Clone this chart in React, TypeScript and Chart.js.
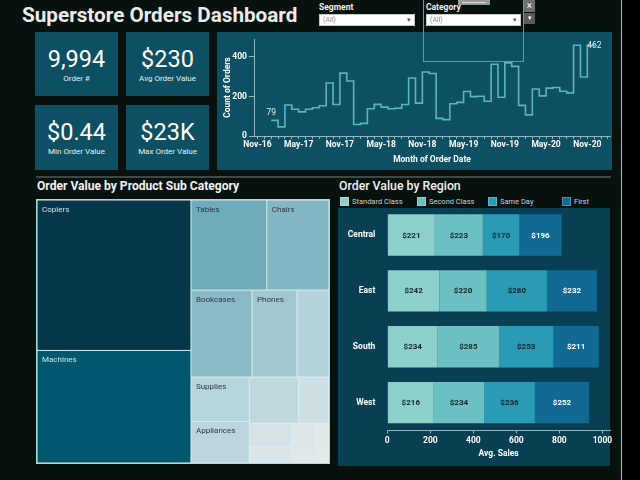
import React, { useEffect, useRef } from 'react';
import { Chart, registerables } from 'chart.js';

Chart.register(...registerables);

// ---------------- DATA ----------------
const DASHBOARD_TITLE = 'Superstore Orders Dashboard';

const KPI_VALUES = ['9,994', '$230', '$0.44', '$23K'];
const KPI_LABELS = ['Order #', 'Avg Order Value', 'Min Order Value', 'Max Order Value'];

// monthly count of orders, Jan-17 .. Dec-20
const ORDER_COUNTS = [
  79, 46, 157, 135, 122, 135, 143, 153, 268, 159, 318, 278,
  58, 64, 138, 160, 146, 138, 140, 159, 293, 166, 324, 316,
  89, 83, 163, 170, 225, 199, 201, 176, 363, 196, 370, 352,
  155, 107, 238, 203, 242, 245, 226, 218, 459, 298, 459, 462,
];
const X_TICK_LABELS = ['Nov-16', 'May-17', 'Nov-17', 'May-18', 'Nov-18', 'May-19', 'Nov-19', 'May-20', 'Nov-20'];
const X_TICK_FIRST_MONTH = -2; // Nov-16 relative to Jan-17
const X_TICK_EVERY = 6;
const Y_TICKS = [0, 200, 400];

const SUB_CATEGORIES = [
  'Copiers', 'Machines', 'Tables', 'Chairs', 'Bookcases', 'Phones', 'Storage', 'Supplies',
  'Appliances', 'Accessories', 'Binders', 'Furnishings', 'Envelopes', 'Paper', 'Labels', 'Art', 'Fasteners',
];
const SUB_CATEGORY_AVG_SALES = [
  2198.94, 1645.55, 648.79, 532.33, 503.86, 371.21, 264.59, 245.65,
  230.76, 215.97, 133.56, 95.83, 64.87, 57.28, 34.3, 34.07, 13.94,
];
// how many items go in each successive treemap strip
const TREEMAP_STRIPS = [2, 2, 3, 2, 2, 2, 2, 2];

const REGIONS = ['Central', 'East', 'South', 'West'];
const SHIP_MODES = ['Standard Class', 'Second Class', 'Same Day', 'First'];
const STANDARD_CLASS = [221, 242, 234, 216];
const SECOND_CLASS = [223, 220, 285, 234];
const SAME_DAY = [170, 280, 253, 236];
const FIRST_CLASS = [196, 232, 211, 252];
const X_BAR_TICKS = [0, 200, 400, 600, 800, 1000];

// ---------------- STYLES ----------------
const FONT = 'Roboto, "Noto Sans", Arial, sans-serif';
const BG = '#07120f';
const PANEL = '#0d4f63';
const BAR_PANEL = '#093f52';
const LINE_COLOR = '#5ab5c0';
const AXIS_COLOR = '#8fb8c2';
const SHIP_COLORS = ['#8dcfcb', '#6cc0c1', '#2a9bb5', '#106a93'];
const SHIP_LABEL_COLORS = ['#13262b', '#13262b', '#13262b', '#ffffff'];
const TREEMAP_COLOR_STOPS: [number, number[]][] = [
  [0, [232, 235, 235]],
  [250, [183, 213, 220]],
  [650, [111, 171, 185]],
  [1650, [0, 88, 110]],
  [2200, [6, 55, 72]],
];

function treemapColor(v: number) {
  const s = TREEMAP_COLOR_STOPS;
  for (let i = 1; i < s.length; i++) {
    if (v <= s[i][0]) {
      const t = (v - s[i - 1][0]) / (s[i][0] - s[i - 1][0]);
      const c = s[i - 1][1].map((a, k) => Math.round(a + (s[i][1][k] - a) * t));
      return `rgb(${c[0]},${c[1]},${c[2]})`;
    }
  }
  const c = s[s.length - 1][1];
  return `rgb(${c[0]},${c[1]},${c[2]})`;
}

function stripLayout(values: number[], strips: number[], aspect: number) {
  const rects: { x0: number; y0: number; x1: number; y1: number }[] = [];
  let x = 0, y = 0, w = 1, h = 1, idx = 0;
  let remaining = values.reduce((a, b) => a + b, 0);
  strips.forEach((n, gi) => {
    const items = values.slice(idx, idx + n);
    const s = items.reduce((a, b) => a + b, 0);
    const last = gi === strips.length - 1;
    const f = s / remaining;
    const wide = w * aspect >= h;
    if (wide) {
      const sw = w * f;
      if (last) {
        let cx = x;
        items.forEach((v) => { const iw = (w * v) / s; rects.push({ x0: cx, y0: y, x1: cx + iw, y1: y + h }); cx += iw; });
      } else {
        let cy = y;
        items.forEach((v) => { const ih = (h * v) / s; rects.push({ x0: x, y0: cy, x1: x + sw, y1: cy + ih }); cy += ih; });
      }
      x += sw; w -= sw;
    } else {
      const sh = h * f;
      if (last) {
        let cy = y;
        items.forEach((v) => { const ih = (h * v) / s; rects.push({ x0: x, y0: cy, x1: x + w, y1: cy + ih }); cy += ih; });
      } else {
        let cx = x;
        items.forEach((v) => { const iw = (w * v) / s; rects.push({ x0: cx, y0: y, x1: cx + iw, y1: y + sh }); cx += iw; });
      }
      y += sh; h -= sh;
    }
    remaining -= s;
    idx += n;
  });
  return rects;
}

// ---------------- CHARTS ----------------
function useChart(factory: (c: HTMLCanvasElement) => Chart) {
  const ref = useRef<HTMLCanvasElement>(null);
  useEffect(() => {
    const chart = factory(ref.current!);
    return () => chart.destroy();
  }, []);
  return ref;
}

function LineChart() {
  const ref = useChart((canvas) => {
    const lineLabels = {
      id: 'lineLabels',
      afterDatasetsDraw(chart: any) {
        const pts = chart.getDatasetMeta(0).data;
        const ctx = chart.ctx;
        ctx.save();
        ctx.font = `8.5px ${FONT}`;
        ctx.fillStyle = '#e6f0f0';
        const first = pts[0];
        const last = pts[pts.length - 1];
        ctx.textAlign = 'center';
        ctx.textBaseline = 'bottom';
        ctx.fillText(String(ORDER_COUNTS[0]), first.x, first.y - 3);
        ctx.textAlign = 'left';
        ctx.textBaseline = 'middle';
        ctx.fillText(String(ORDER_COUNTS[ORDER_COUNTS.length - 1]), last.x - 7, last.y + 1);
        ctx.restore();
      },
    };
    const tickFont = { family: FONT, size: 8.5, weight: 'bold' as const };
    return new Chart(canvas, {
      type: 'line',
      data: {
        datasets: [{
          data: ORDER_COUNTS.map((v, i) => ({ x: i, y: v })),
          stepped: 'before',
          borderColor: LINE_COLOR,
          borderWidth: 1.6,
          pointRadius: 0,
          fill: false,
        }],
      },
      options: {
        animation: false,
        responsive: false,
        layout: { padding: { top: 1, right: 2, left: 0, bottom: 0 } },
        plugins: { legend: { display: false }, tooltip: { enabled: false } },
        scales: {
          x: {
            type: 'linear',
            min: -2.5,
            max: 49.3,
            afterBuildTicks: (s: any) => {
              const t = [];
              for (let v = X_TICK_FIRST_MONTH; v <= 49; v++) t.push({ value: v });
              s.ticks = t;
            },
            ticks: {
              autoSkip: false,
              maxRotation: 0,
              color: '#ffffff',
              font: tickFont,
              padding: 1,
              callback: (v: any) => {
                const k = Number(v) - X_TICK_FIRST_MONTH;
                return k % X_TICK_EVERY === 0 ? X_TICK_LABELS[k / X_TICK_EVERY] ?? '' : '';
              },
            },
            grid: { drawOnChartArea: false, drawTicks: true, tickLength: 3, color: AXIS_COLOR },
            border: { display: true, color: AXIS_COLOR },
            title: { display: true, text: 'Month of Order Date', color: '#ffffff', font: tickFont, padding: { top: 0, bottom: 5 } },
            afterFit: (s: any) => { s.height = 34; },
          },
          y: {
            min: 0,
            max: 490,
            afterBuildTicks: (s: any) => { s.ticks = Y_TICKS.map((v) => ({ value: v })); },
            ticks: { color: '#ffffff', font: tickFont, padding: 2 },
            grid: { drawOnChartArea: false, drawTicks: true, tickLength: 5, color: AXIS_COLOR },
            border: { display: true, color: AXIS_COLOR },
            title: { display: true, text: 'Count of Orders', color: '#ffffff', font: tickFont, padding: { top: 6, bottom: 0 } },
            afterFit: (s: any) => { s.width = 37; },
          },
        },
      } as any,
      plugins: [lineLabels],
    });
  });
  return (
    <canvas ref={ref} width={395} height={138}
      style={{ position: 'absolute', left: 217, top: 32, width: 395, height: 138 }} />
  );
}

function TreemapChart() {
  const W = 292, H = 263;
  const ref = useChart((canvas) => {
    const treemap = {
      id: 'treemap',
      beforeDatasetsDraw(chart: any) {
        const { ctx, chartArea, scales } = chart;
        const aspect = chartArea.width / chartArea.height;
        const rects = stripLayout(SUB_CATEGORY_AVG_SALES, TREEMAP_STRIPS, aspect);
        ctx.save();
        ctx.fillStyle = '#d9eef1';
        ctx.fillRect(chartArea.left, chartArea.top, chartArea.width, chartArea.height);
        rects.forEach((r, i) => {
          const px0 = scales.x.getPixelForValue(r.x0);
          const px1 = scales.x.getPixelForValue(r.x1);
          const py0 = scales.y.getPixelForValue(r.y0);
          const py1 = scales.y.getPixelForValue(r.y1);
          const v = SUB_CATEGORY_AVG_SALES[i];
          ctx.fillStyle = treemapColor(v);
          ctx.fillRect(px0 + 0.5, py0 + 0.5, px1 - px0 - 1, py1 - py0 - 1);
          ctx.font = `8px ${FONT}`;
          const label = SUB_CATEGORIES[i];
          const tw = ctx.measureText(label).width;
          if (tw + 10 <= px1 - px0 && py1 - py0 >= 20) {
            ctx.fillStyle = v > 1000 ? '#cfe2e8' : '#2a3b42';
            ctx.textAlign = 'left';
            ctx.textBaseline = 'top';
            ctx.fillText(label, px0 + 5, py0 + 5.5);
          }
        });
        ctx.restore();
      },
    };
    return new Chart(canvas, {
      type: 'scatter',
      data: { datasets: [{ data: [] }] },
      options: {
        animation: false,
        responsive: false,
        layout: { padding: 0 },
        plugins: { legend: { display: false }, tooltip: { enabled: false } },
        scales: {
          x: { type: 'linear', min: 0, max: 1, display: false },
          y: { type: 'linear', min: 0, max: 1, reverse: true, display: false },
        },
      } as any,
      plugins: [treemap],
    });
  });
  return (
    <div style={{ position: 'absolute', left: 36, top: 199, width: W + 2, height: H + 2, background: '#a6dbe2' }}>
      <canvas ref={ref} width={W} height={H}
        style={{ position: 'absolute', left: 1, top: 1, width: W, height: H }} />
    </div>
  );
}

function BarChart() {
  const ref = useChart((canvas) => {
    const barLabels = {
      id: 'barLabels',
      afterDatasetsDraw(chart: any) {
        const ctx = chart.ctx;
        ctx.save();
        ctx.font = `bold 8px ${FONT}`;
        ctx.textAlign = 'center';
        ctx.textBaseline = 'middle';
        chart.data.datasets.forEach((ds: any, di: number) => {
          const meta = chart.getDatasetMeta(di);
          meta.data.forEach((bar: any, i: number) => {
            ctx.fillStyle = SHIP_LABEL_COLORS[di];
            ctx.fillText('$' + ds.data[i], (bar.x + bar.base) / 2, bar.y + 0.5);
          });
        });
        ctx.restore();
      },
    };
    const tickFont = { family: FONT, size: 8.5, weight: 'bold' as const };
    const series = [STANDARD_CLASS, SECOND_CLASS, SAME_DAY, FIRST_CLASS];
    return new Chart(canvas, {
      type: 'bar',
      data: {
        labels: REGIONS,
        datasets: SHIP_MODES.map((m, i) => ({
          label: m,
          data: series[i],
          backgroundColor: SHIP_COLORS[i],
          borderWidth: 0,
          barPercentage: 0.74,
          categoryPercentage: 1,
        })),
      },
      options: {
        indexAxis: 'y',
        animation: false,
        responsive: false,
        layout: { padding: { top: 0, right: 6, left: 0, bottom: 0 } },
        plugins: { legend: { display: false }, tooltip: { enabled: false } },
        scales: {
          x: {
            stacked: true,
            min: 0,
            max: 1035,
            afterBuildTicks: (s: any) => { s.ticks = X_BAR_TICKS.map((v) => ({ value: v })); },
            ticks: { color: '#ffffff', font: tickFont, padding: 2, maxRotation: 0, callback: (v: any) => String(v) },
            grid: { drawOnChartArea: false, drawTicks: true, tickLength: 3, color: AXIS_COLOR },
            border: { display: true, color: AXIS_COLOR },
            title: { display: true, text: 'Avg. Sales', color: '#ffffff', font: tickFont, padding: { top: 0, bottom: 7 } },
            afterFit: (s: any) => { s.height = 35.5; },
          },
          y: {
            stacked: true,
            ticks: { color: '#ffffff', font: tickFont, padding: 4 },
            grid: { display: false },
            border: { display: false },
            afterFit: (s: any) => { s.width = 49.3; },
          },
        },
      } as any,
      plugins: [barLabels],
    });
  });
  return (
    <>
      <div style={{ position: 'absolute', left: 338, top: 208, width: 272, height: 258, background: BAR_PANEL }} />
      <canvas ref={ref} width={278} height={268} style={{ position: 'absolute', left: 338, top: 198, width: 278, height: 268 }} />
    </>
  );
}

// ---------------- PAGE ----------------
const CARD_POS = [
  { left: 35, top: 32 }, { left: 126, top: 32 },
  { left: 35, top: 105 }, { left: 126, top: 105 },
];
const LEGEND_X = [340, 417, 488, 562];

function Dropdown({ left, top, width, label }: { left: number; top: number; width: number; label: string }) {
  return (
    <>
      <div style={{ position: 'absolute', left, top: top - 12, fontSize: 8.5, fontWeight: 700, color: '#f0f0f0' }}>{label}</div>
      <div style={{
        position: 'absolute', left, top, width, height: 12, background: '#ffffff', boxSizing: 'border-box',
        border: '1px solid #c8c8c8',
      }}>
        <span style={{ position: 'absolute', left: 3, top: 1, fontSize: 7, color: '#8a8a8a', lineHeight: '9px' }}>(All)</span>
        <span style={{ position: 'absolute', right: 3, top: 0, fontSize: 7, color: '#555', lineHeight: '10px' }}>▾</span>
      </div>
    </>
  );
}

export default function App() {
  return (
    <div style={{ position: 'fixed', left: 0, top: 0, width: 640, height: 480, background: BG, overflow: 'hidden', fontFamily: FONT }}>
      <div style={{ position: 'absolute', left: 621, top: 0, width: 19, height: 480, background: '#000' }} />
      <div style={{ position: 'absolute', left: 621, top: 0, width: 1, height: 480, background: '#b5b5b5' }} />

      <div style={{ position: 'absolute', left: 22, top: 2, fontSize: 20.7, fontWeight: 700, color: '#ececec', lineHeight: '26px', whiteSpace: 'nowrap' }}>
        {DASHBOARD_TITLE}
      </div>

      {KPI_VALUES.map((v, i) => (
        <div key={i} style={{ position: 'absolute', ...CARD_POS[i], width: 83, height: i < 2 ? 64 : 65, background: PANEL, color: '#ffffff', textAlign: 'center' }}>
          <div style={{ position: 'absolute', left: 0, right: 0, top: 13, fontSize: 23.5, lineHeight: '28px' }}>{v}</div>
          <div style={{ position: 'absolute', left: 0, right: 0, top: 42, fontSize: 8, lineHeight: '10px', color: '#e8f0f2' }}>{KPI_LABELS[i]}</div>
        </div>
      ))}

      <div style={{ position: 'absolute', left: 217, top: 32, width: 395, height: 138, background: PANEL }} />
      <LineChart />

      <Dropdown left={319} top={14} width={96} label="Segment" />
      <Dropdown left={426} top={14} width={95} label="Category" />
      <div style={{ position: 'absolute', left: 423, top: -1, width: 101, height: 63, border: '1px solid #8a8a8a', boxSizing: 'border-box' }} />
      <div style={{ position: 'absolute', left: 458, top: 0, width: 32, height: 5, background: '#9a9a9a' }}>
        <div style={{ position: 'absolute', left: 4, right: 4, top: 2, height: 1, background: '#dcdcdc' }} />
      </div>
      <div style={{ position: 'absolute', left: 524, top: 0, width: 11, height: 12, background: '#6e6e6e', color: '#fff', fontSize: 10, lineHeight: '12px', textAlign: 'center' }}>×</div>
      <div style={{ position: 'absolute', left: 524, top: 13, width: 11, height: 11, background: '#5a5a5a', color: '#fff', fontSize: 7, lineHeight: '11px', textAlign: 'center' }}>▾</div>

      <div style={{ position: 'absolute', left: 36, top: 176, width: 575, height: 2, background: '#3d4945' }} />

      <div style={{ position: 'absolute', left: 37, top: 179, fontSize: 12.1, fontWeight: 700, color: '#f2f2f2', lineHeight: '15px', whiteSpace: 'nowrap' }}>
        Order Value by Product Sub Category
      </div>
      <TreemapChart />

      <div style={{ position: 'absolute', left: 339, top: 178, fontSize: 12.3, fontWeight: 500, color: '#f2f2f2', lineHeight: '16px', whiteSpace: 'nowrap' }}>
        Order Value by Region
      </div>
      {SHIP_MODES.map((m, i) => (
        <div key={m} style={{ position: 'absolute', left: LEGEND_X[i], top: 197, height: 10, whiteSpace: 'nowrap' }}>
          <div style={{ position: 'absolute', left: 0, top: 0, width: 9, height: 9, background: SHIP_COLORS[i], boxShadow: 'inset 0 0 0 1px rgba(255,255,255,0.25)' }} />
          <div style={{ position: 'absolute', left: 12, top: -1, fontSize: 7.5, lineHeight: '11px', color: '#c9d3d3' }}>{m}</div>
        </div>
      ))}
      <BarChart />
    </div>
  );
}
